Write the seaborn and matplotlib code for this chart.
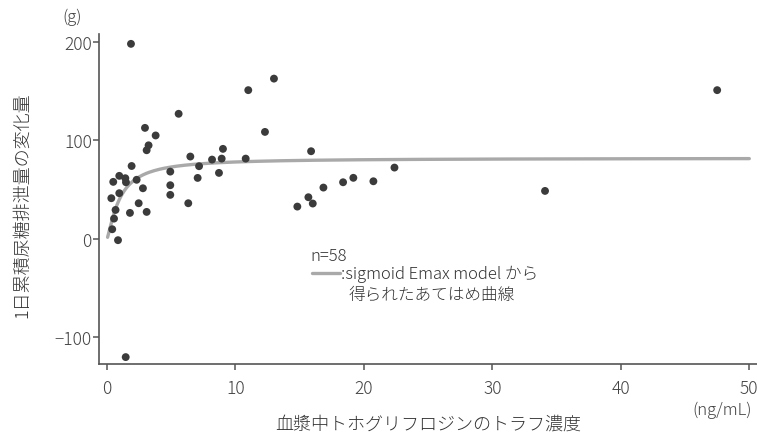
import numpy as np
import pandas as pd
import matplotlib
matplotlib.use("Agg")
import matplotlib.pyplot as plt
from matplotlib.lines import Line2D
import seaborn as sns

# observed trough concentration (ng/mL) and change in 24h urinary glucose excretion (g)
conc = [1.87, 0.49, 0.96, 1.43, 1.48, 2.31, 1.92, 2.96, 3.24, 3.09,
        3.79, 2.80, 0.96, 0.34, 0.67, 0.55, 0.41, 0.86, 1.79, 2.47,
        3.09, 5.58, 4.93, 4.93, 4.93, 6.33, 6.49, 7.17, 7.06, 8.18,
        8.93, 9.03, 8.72, 10.8, 11.0, 12.3, 13.0, 1.46, 15.89, 22.38,
        20.74, 19.18, 18.38, 16.85, 15.68, 16.02, 14.82, 34.1, 47.5]
change = [198, 57.9, 64, 61.6, 57.5, 60, 74, 112.7, 95, 90,
          105, 51.4, 46.4, 41.3, 29.4, 20.6, 9.8, -1.3, 26.4, 36.2,
          27.4, 127, 68.3, 54.5, 44.7, 36.2, 83.6, 73.8, 61.9, 80.5,
          81.5, 91.4, 67, 81.5, 151, 108.6, 162.7, -120, 89, 72.4,
          58.5, 62, 57.5, 52.1, 42.3, 35.9, 32.8, 48.7, 151]

# sigmoid Emax model parameters (fitted curve)
E0, Emax, EC50, hill = 0.0, 82.0, 1.0, 1.3
curve_x = np.linspace(0.05, 50, 400)
curve_y = E0 + Emax * curve_x**hill / (EC50**hill + curve_x**hill)

xticks = [0, 10, 20, 30, 40, 50]
yticks = [-100, 0, 100, 200]

sns.set_style("white")
plt.rcParams['font.family'] = ['Noto Sans CJK JP', 'DejaVu Sans']
plt.rcParams['font.weight'] = 'light'

W, H = 757, 439
fig = plt.figure(figsize=(W / 100, H / 100), dpi=100)
ax = fig.add_axes([99.5 / W, 1 - 365 / H, (757 - 99.5) / W, (365 - 35) / H])

pts = pd.DataFrame({"conc": conc, "change": change})
cur = pd.DataFrame({"x": curve_x, "y": curve_y})

sns.lineplot(data=cur, x="x", y="y", ax=ax, color="#a9a9a9", linewidth=2.4,
             zorder=2, estimator=None, sort=False)
sns.scatterplot(data=pts, x="conc", y="change", ax=ax, color="#3b3b3b", s=32,
                edgecolor="none", zorder=3)

ax.set_xlim(-0.58, 50.6)
ax.set_ylim(-127, 208)
ax.set_xticks(xticks)
ax.set_yticks(yticks)
ax.set_xticklabels([str(t) for t in xticks])
ax.set_yticklabels(["\u2212100" if t < 0 else str(t) for t in yticks])
ax.set_xlabel("")
ax.set_ylabel("")

for s in ["top", "right"]:
    ax.spines[s].set_visible(False)
for s in ["left", "bottom"]:
    ax.spines[s].set_color("#555555")
    ax.spines[s].set_linewidth(1.2)
ax.tick_params(axis="both", direction="out", length=4.5, width=1.1, color="#555555",
               labelsize=12.5, labelcolor="#444444", bottom=True, left=True)
ax.tick_params(axis="y", pad=1)
ax.tick_params(axis="x", pad=6)

txt = "#333333"
fig.text(22 / W, 1 - 205 / H, "1日累積尿糖排泄量の変化量", rotation=90, ha="center",
         va="center", fontsize=13, color=txt)
fig.text(428 / W, 1 - 425 / H, "血漿中トホグリフロジンのトラフ濃度", ha="center",
         va="center", fontsize=13, color=txt)
fig.text(72 / W, 1 - 17 / H, "(g)", ha="center", va="center", fontsize=12, color="#444444")
fig.text(722 / W, 1 - 410 / H, "(ng/mL)", ha="center", va="center", fontsize=12, color="#444444")

# legend
fig.text(310 / W, 1 - 257 / H, "n=58", ha="left", va="center", fontsize=12, color=txt)
fig.add_artist(Line2D([312 / W, 340 / W], [1 - 274 / H, 1 - 274 / H],
                      transform=fig.transFigure, color="#a9a9a9", linewidth=2.4))
fig.text(341 / W, 1 - 274 / H, ":sigmoid Emax model から", ha="left", va="center",
         fontsize=12, color=txt)
fig.text(349 / W, 1 - 295 / H, "得られたあてはめ曲線", ha="left", va="center",
         fontsize=12, color=txt)

fig.savefig("out.png", dpi=100)
